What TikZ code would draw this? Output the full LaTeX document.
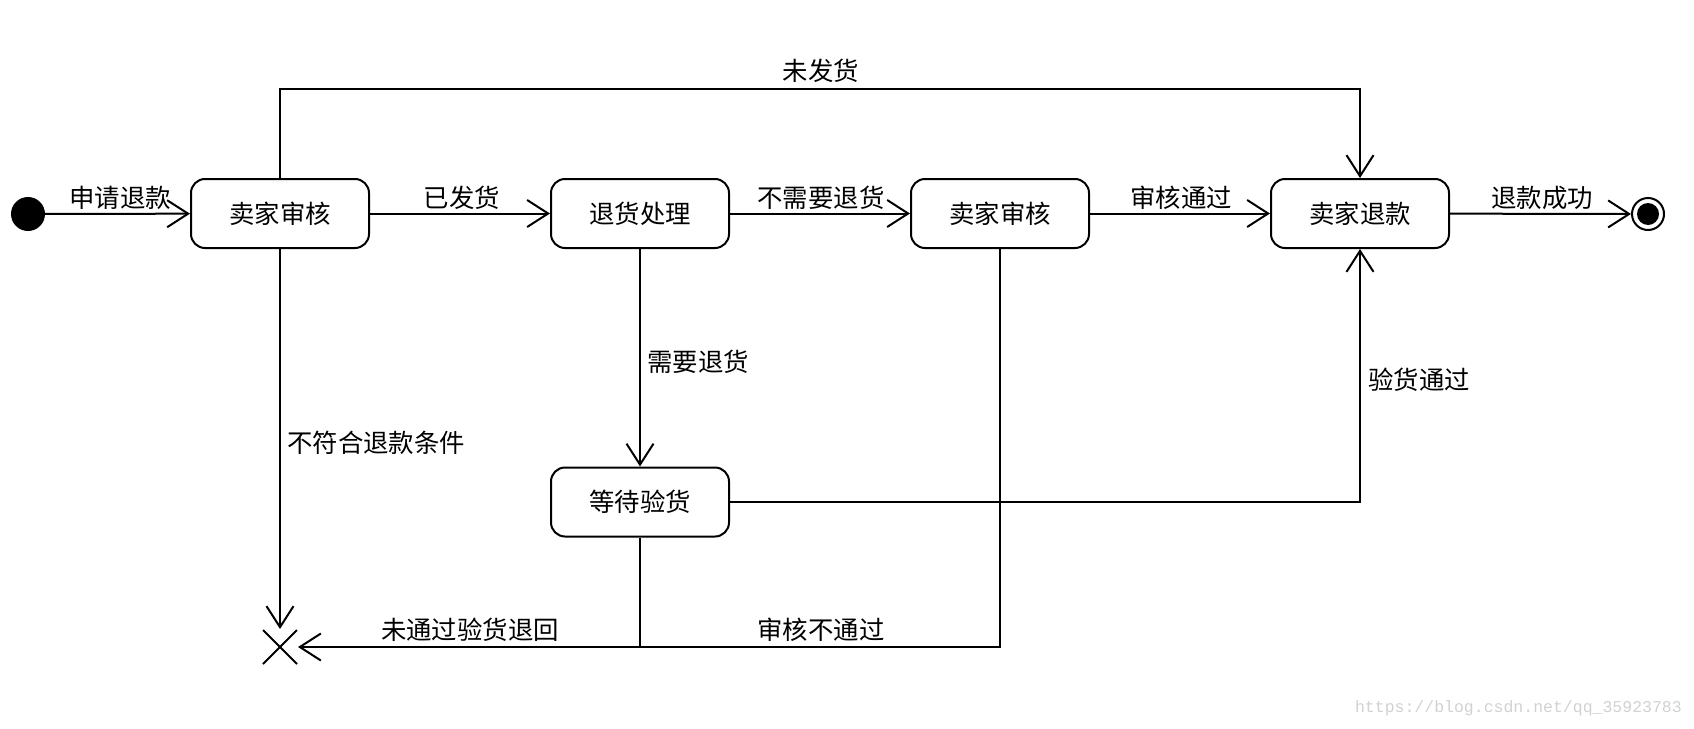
\documentclass[tikz,border=0pt]{standalone}
\usepackage{fontspec}
\setmainfont{Noto Sans CJK SC}
\newfontfamily\wmfont{Liberation Mono}
\usetikzlibrary{arrows.meta,calc}
\begin{document}
\begin{tikzpicture}[x=1pt,y=-1pt,
  state/.style={draw,line width=2pt,rounded corners=14pt,minimum width=178pt,minimum height=69pt,inner sep=0pt,font=\fontsize{25.4}{29}\selectfont},
  lbl/.style={inner sep=0pt,font=\fontsize{25.4}{29}\selectfont},
  conn/.style={line width=2pt,-{Straight Barb[length=21pt,width=27pt,line width=2pt]}},
  plain/.style={line width=2pt}]
\useasboundingbox (0,0) rectangle (1694,728);
\node[circle,fill=black,minimum size=34pt,inner sep=0pt] (init) at (28,214) {};
\node[state] (s1) at (280,213.5) {卖家审核};
\node[state] (s2) at (640,213.5) {退货处理};
\node[state] (s3) at (1000,213.5) {卖家审核};
\node[state] (s4) at (1360,213.5) {卖家退款};
\node[state] (s5) at (640,502) {等待验货};
\node[circle,draw,line width=2pt,minimum size=32pt,inner sep=0pt] (fin) at (1648,214) {};
\fill (fin.center) circle (11);
\coordinate (x) at (280,647);
\coordinate (xt) at (280,629);
\coordinate (xr) at (298,647);
\draw[line width=2pt] ($(x)+(-17,-17)$) -- ($(x)+(17,17)$) ($(x)+(-17,17)$) -- ($(x)+(17,-17)$);
\coordinate (tl) at (280,89);
\coordinate (tr) at (1360,89);
\coordinate (br) at (1360,502);
\coordinate (b5) at (640,647);
\coordinate (b3) at (1000,647);
% connectors
\draw[conn] (init) -- (s1);
\draw[conn] (s1) -- (s2);
\draw[conn] (s2) -- (s3);
\draw[conn] (s3) -- (s4);
\draw[conn] (s4) -- (fin);
\draw[conn] (s1.north) -- (tl) -- (tr) -- (s4.north);
\draw[conn] (s2.south) -- (s5.north);
\draw[conn] (s1.south) -- (xt);
\draw[conn] (s5.east) -- (br) -- (s4.south);
\draw[plain] (s5.south) -- (b5);
\draw[conn] (s3.south) -- (b3) -- (xr);
% labels
\node[lbl] (l1) at (120,198) {申请退款};
\node[lbl] (l2) at (462,198) {已发货};
\node[lbl] (l3) at (821,198) {不需要退货};
\node[lbl] (l4) at (1181,198) {审核通过};
\node[lbl] (l5) at (1542,198) {退款成功};
\node[lbl] (l6) at (821,71) {未发货};
\node[lbl,anchor=west] (l7) at (647,362) {需要退货};
\node[lbl,anchor=west] (l8) at (287,443) {不符合退款条件};
\node[lbl,anchor=west] (l9) at (1368,380) {验货通过};
\node[lbl] (l10) at (470,630) {未通过验货退回};
\node[lbl] (l11) at (821,630) {审核不通过};
\node[inner sep=0pt,anchor=east,text=black!18,font=\wmfont\fontsize{16.5}{18}\selectfont] (wm) at (1682,708) {https://blog.csdn.net/qq\_35923783};
\end{tikzpicture}
\end{document}
